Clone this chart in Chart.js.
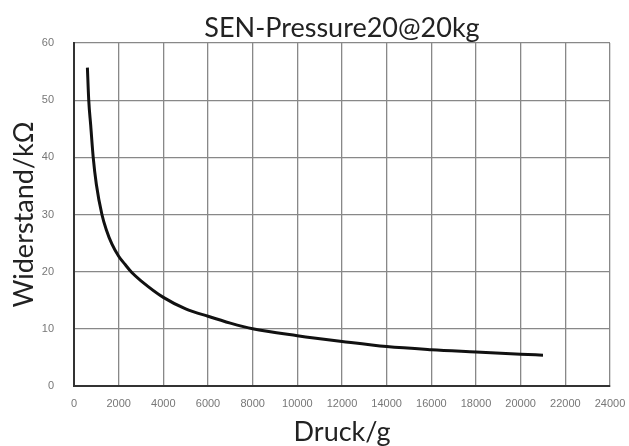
<!DOCTYPE html>
<html>
<head>
<meta charset="utf-8">
<script src="https://cdn.jsdelivr.net/npm/chart.js@4"></script>
<style>
  html, body { margin: 0; padding: 0; background: #fff; }
  #wrap { width: 629px; height: 446px; }
</style>
</head>
<body>
<div id="wrap"><canvas id="chart" width="629" height="446"></canvas></div>
<script>
// pressure in g, resistance in kOhm
const druck = [600, 660, 750, 860, 1000, 1250, 1450, 1700, 2000, 2300, 2600, 3000, 4000, 5000, 6000, 7000, 8000, 10000, 12000, 14000, 16000, 18000, 20000, 21000];
const widerstand = [55.7, 50, 45.5, 40, 35.3, 30, 27.3, 24.8, 22.7, 21.2, 19.8, 18.4, 15.5, 13.5, 12.2, 11, 10, 8.8, 7.8, 6.9, 6.35, 5.95, 5.55, 5.4];

const xMin = 0, xMax = 24000, xStep = 2000;
const yMin = 0, yMax = 60, yStep = 10;

const titleText = 'SEN-Pressure20@20kg';
const xTitle = 'Druck/g';
const yTitle = 'Widerstand/kΩ';

let points = druck.map((d, i) => ({ x: d, y: widerstand[i] }));

let ctx = document.getElementById('chart').getContext('2d');

new Chart(ctx, {
  type: 'line',
  data: {
    datasets: [{
      data: points,
      borderColor: '#111',
      borderWidth: 3,
      pointRadius: 0,
      fill: false,
      cubicInterpolationMode: 'monotone'
    }]
  },
  options: {
    responsive: false,
    animation: false,
    layout: { padding: { left: 0, right: 19, top: 0, bottom: 0 } },
    plugins: {
      legend: { display: false },
      tooltip: { enabled: false },
      title: {
        display: true,
        text: titleText,
        fullSize: false,
        color: '#222',
        font: { family: 'Lato', size: 27, weight: 'normal', lineHeight: 1 },
        padding: { top: 15, bottom: 1 }
      }
    },
    scales: {
      x: {
        type: 'linear',
        min: xMin,
        max: xMax,
        afterFit: s => { s.height = 60; s.paddingLeft = 0; s.paddingRight = 0; },
        ticks: {
          stepSize: xStep,
          color: '#777',
          font: { family: 'Liberation Sans', size: 11 },
          padding: 11,
          maxRotation: 0,
          callback: v => String(v)
        },
        grid: { color: '#888', lineWidth: 1.3, drawTicks: false },
        border: { color: '#333', width: 2 },
        title: {
          display: true,
          text: xTitle,
          color: '#222',
          font: { family: 'Lato', size: 27, weight: 'normal', lineHeight: 1 },
          padding: { top: 0, bottom: 0 }
        }
      },
      y: {
        type: 'linear',
        min: yMin,
        max: yMax,
        afterFit: s => { s.width = 74; },
        ticks: {
          stepSize: yStep,
          color: '#777',
          font: { family: 'Liberation Sans', size: 11 },
          padding: 20,
          callback: v => String(v)
        },
        grid: { color: '#888', lineWidth: 1.3, drawTicks: false },
        border: { color: '#333', width: 2 },
        title: {
          display: true,
          text: yTitle,
          color: '#222',
          font: { family: 'Lato', size: 27, weight: 'normal', lineHeight: 1.2 },
          padding: { top: 8, bottom: 8 }
        }
      }
    }
  }
});
</script>
</body>
</html>
